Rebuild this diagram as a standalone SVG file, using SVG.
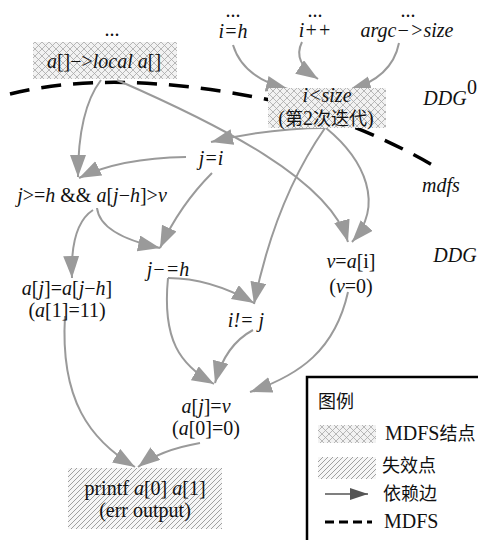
<svg xmlns="http://www.w3.org/2000/svg" width="478" height="540" viewBox="0 0 478 540">
<style>
text{font-family:'Liberation Serif','DejaVu Serif Condensed','DejaVu Serif',serif;font-size:20px;fill:#111;text-anchor:middle}
.i{font-style:italic}
.cjk{font-family:'Noto Sans CJK SC',sans-serif;font-size:18px}
.e{fill:none;stroke:#9a9a9a;stroke-width:2;marker-end:url(#ah)}
.l{text-anchor:start}
</style>
<defs>
<marker id="ah" markerUnits="userSpaceOnUse" markerWidth="24" markerHeight="18" refX="22" refY="8" orient="auto">
<path d="M0,0 L22,8 L0,16 z" fill="#9a9a9a"/>
</marker>
<marker id="ahk" markerUnits="userSpaceOnUse" markerWidth="20" markerHeight="14" refX="18" refY="6" orient="auto">
<path d="M0,0 L18,6 L0,12 z" fill="#555"/>
</marker>
<pattern id="cross" width="7" height="7" patternUnits="userSpaceOnUse">
<rect width="7" height="7" fill="#f2f2f2"/>
<path d="M0,0 L7,7 M7,0 L0,7" stroke="#a8a8a8" stroke-width="0.8"/>
</pattern>
<pattern id="diag" width="5" height="5" patternUnits="userSpaceOnUse">
<rect width="5" height="5" fill="#f6f6f6"/>
<path d="M-1,6 L6,-1 M-1,1 L1,-1 M4,6 L6,4" stroke="#8a8a8a" stroke-width="0.8"/>
</pattern>
</defs>
<rect width="478" height="540" fill="#fff"/>

<path d="M10,94 Q115,68 270,100 Q360,122 441,170" fill="none" stroke="#000" stroke-width="3.5" stroke-dasharray="20,12"/>

<g id="connectors">
<path class="e" d="M233,45 Q243,78 288,89"/>
<path class="e" d="M302,42 Q292,62 318,79"/>
<path class="e" d="M399,43 Q392,78 349,90"/>
<path class="e" d="M101,80 Q78,110 78,177"/>
<path class="e" d="M117,80 C220,125 330,180 348,242"/>
<path class="e" d="M325,128 Q270,128 211,142"/>
<path class="e" d="M325,128 Q275,200 254,304"/>
<path class="e" d="M326,128 C365,160 385,205 352,242"/>
<path class="e" d="M186,157 Q120,158 79,178"/>
<path class="e" d="M212,173 Q180,205 160,248"/>
<path class="e" d="M93,210 Q70,225 72,278"/>
<path class="e" d="M97,208 Q100,235 160,248"/>
<path class="e" d="M168,278 Q210,278 254,303"/>
<path class="e" d="M168,278 C162,340 180,365 214,384"/>
<path class="e" d="M253,330 Q225,345 215,383"/>
<path class="e" d="M348,292 C335,350 300,375 250,392"/>
<path class="e" d="M65,316 C60,400 90,440 135,467"/>
<path class="e" d="M200,443 Q160,450 138,467"/>
</g>

<g id="dots">
<text x="112" y="36">...</text>
<text x="233" y="17">...</text>
<text x="315" y="17">...</text>
<text x="408" y="17">...</text>
</g>

<g id="n_local">
<rect x="33" y="42" width="144" height="37" fill="url(#cross)"/>
<text x="104" y="68"><tspan class="i">a</tspan>[]−&gt;<tspan class="i">local a</tspan>[]</text>
</g>
<g id="n_ih"><text class="i" x="233" y="38">i=h</text></g>
<g id="n_ipp"><text class="i" x="315" y="37">i++</text></g>
<g id="n_argc"><text class="i" x="407" y="37">argc−&gt;size</text></g>
<g id="n_isize">
<rect x="268" y="88" width="118" height="40" fill="url(#cross)"/>
<text class="i" x="327" y="102">i&lt;size</text>
<text x="326" y="125">(<tspan class="cjk">第</tspan>2<tspan class="cjk">次迭代</tspan>)</text>
</g>
<g id="n_ji"><text class="i" x="211" y="165">j=i</text></g>
<g id="n_cond"><text x="92" y="202"><tspan class="i">j</tspan>&gt;=<tspan class="i">h</tspan> &amp;&amp; <tspan class="i">a</tspan>[<tspan class="i">j</tspan>−<tspan class="i">h</tspan>]&gt;<tspan class="i">v</tspan></text></g>
<g id="n_ajh">
<text x="67" y="295"><tspan class="i">a</tspan>[<tspan class="i">j</tspan>]=<tspan class="i">a</tspan>[<tspan class="i">j</tspan>−<tspan class="i">h</tspan>]</text>
<text x="67" y="317">(<tspan class="i">a</tspan>[1]=11)</text>
</g>
<g id="n_jmh"><text class="i" x="168" y="276">j−=h</text></g>
<g id="n_inej"><text class="i" x="246" y="327">i!= j</text></g>
<g id="n_vai">
<text x="351" y="268"><tspan class="i">v</tspan>=<tspan class="i">a</tspan>[i]</text>
<text x="351" y="293">(<tspan class="i">v</tspan>=0)</text>
</g>
<g id="n_ajv">
<text x="206" y="413"><tspan class="i">a</tspan>[<tspan class="i">j</tspan>]=<tspan class="i">v</tspan></text>
<text x="206" y="435">(<tspan class="i">a</tspan>[0]=0)</text>
</g>
<g id="n_printf">
<rect x="68" y="468" width="154" height="61" fill="url(#diag)"/>
<text x="145" y="495">printf <tspan class="i">a</tspan>[0] <tspan class="i">a</tspan>[1]</text>
<text x="145" y="517">(err output)</text>
</g>

<g id="labels">
<text class="i" x="445" y="105">DDG</text><text x="472" y="94" font-size="12">0</text>
<text class="i" x="441" y="192">mdfs</text>
<text class="i" x="455" y="262">DDG</text>
</g>

<g id="legend">
<rect x="307" y="377" width="200" height="200" fill="#fff" stroke="#000" stroke-width="2.5"/>
<text class="cjk l" x="318" y="408">图例</text>
<rect x="318" y="425" width="58" height="18" fill="url(#cross)"/>
<text class="l" x="385" y="440">MDFS<tspan class="cjk">结点</tspan></text>
<rect x="318" y="457" width="58" height="22" fill="url(#diag)"/>
<text class="cjk l" x="382" y="472">失效点</text>
<line x1="325" y1="494" x2="368" y2="494" stroke="#555" stroke-width="1.5" marker-end="url(#ahk)"/>
<text class="cjk l" x="383" y="500">依赖边</text>
<line x1="325" y1="522" x2="372" y2="522" stroke="#000" stroke-width="3" stroke-dasharray="9,5"/>
<text class="l" x="384" y="528">MDFS</text>
</g>
</svg>
